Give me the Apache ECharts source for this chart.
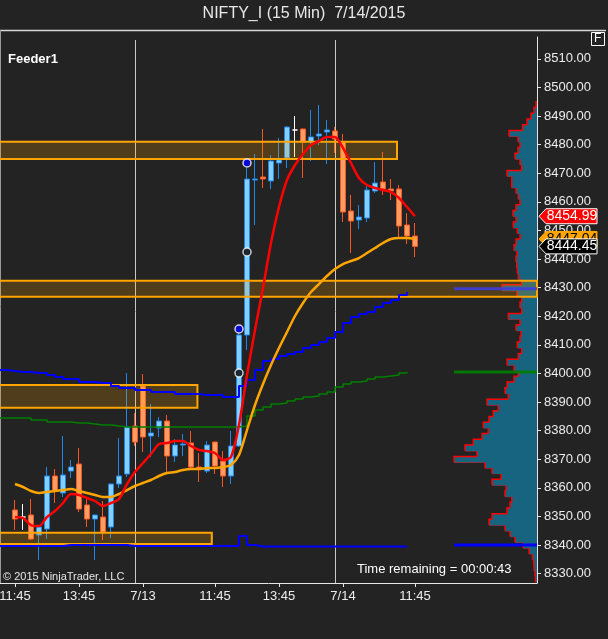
<!DOCTYPE html>
<html>
<head>
<meta charset="utf-8">
<title>NIFTY_I (15 Min) 7/14/2015</title>
<script src="https://cdn.jsdelivr.net/npm/echarts@6/dist/echarts.min.js"></script>
<style>
html,body{margin:0;padding:0;background:#232323;}
#chart{width:608px;height:639px;}
</style>
</head>
<body>
<div id="chart"></div>
<script>
/* 15 min bars, index 0 = 7/10 11:45 */
var tickIdx  = [0, 8, 16, 25, 33, 41, 50];
var tickText = ['11:45', '13:45', '7/13', '11:45', '13:45', '7/14', '11:45'];
var sessionBreaks = [15, 40];
var priceTicks = [8330, 8340, 8350, 8360, 8370, 8380, 8390, 8400, 8410, 8420,
                  8430, 8440, 8450, 8460, 8470, 8480, 8490, 8500, 8510];

// [open, close, low, high]
var ohlc = [
  [8352.27, 8349.12, 8345.28, 8355.77], [8349.82, 8349.82, 8345.28, 8354.37],
  [8350.52, 8342.13, 8341.78, 8356.12], [8343.53, 8346.32, 8334.79, 8346.50],
  [8345.63, 8364.16, 8342.13, 8367.30], [8364.16, 8358.91, 8354.72, 8366.60],
  [8358.22, 8364.51, 8356.82, 8378.14], [8365.90, 8367.30, 8363.46, 8369.75],
  [8368.35, 8352.62, 8351.57, 8373.95], [8354.02, 8349.12, 8346.32, 8356.47],
  [8349.12, 8350.52, 8334.79, 8350.70], [8349.82, 8344.58, 8341.78, 8355.42],
  [8346.32, 8361.36, 8342.48, 8361.50], [8361.36, 8364.16, 8359.96, 8377.44],
  [8364.86, 8381.29, 8363.81, 8400.17], [8381.64, 8376.04, 8374.65, 8386.19],
  [8395.63, 8377.79, 8372.55, 8399.82], [8378.14, 8379.19, 8370.80, 8389.33],
  [8380.94, 8383.39, 8377.79, 8384.79], [8383.39, 8371.15, 8365.21, 8385.49],
  [8371.15, 8375.00, 8369.05, 8377.09], [8375.00, 8375.35, 8371.15, 8378.84],
  [8375.70, 8367.30, 8366.25, 8379.89], [8367.30, 8366.60, 8362.06, 8372.20],
  [8365.90, 8375.00, 8365.21, 8376.39], [8376.04, 8367.65, 8364.86, 8376.20],
  [8369.40, 8364.16, 8360.31, 8372.90], [8364.16, 8374.65, 8361.36, 8379.89],
  [8374.65, 8413.46, 8374.30, 8414.16], [8413.46, 8468.00, 8408.21, 8471.85],
  [8467.65, 8468.00, 8451.92, 8476.74], [8468.70, 8468.00, 8464.86, 8485.49],
  [8467.30, 8474.30, 8464.51, 8476.39], [8473.60, 8474.65, 8468.00, 8482.34],
  [8475.35, 8486.18, 8471.85, 8486.53], [8485.14, 8485.14, 8475.69, 8490.03],
  [8485.49, 8480.94, 8468.35, 8485.60], [8480.94, 8482.69, 8474.30, 8492.13],
  [8483.04, 8483.74, 8479.89, 8493.88], [8484.44, 8485.14, 8473.25, 8488.63],
  [8484.79, 8481.99, 8477.09, 8486.18], [8480.94, 8456.46, 8452.97, 8483.74],
  [8456.81, 8453.32, 8442.13, 8462.41], [8453.67, 8454.72, 8450.52, 8458.91],
  [8454.37, 8464.16, 8452.97, 8465.55], [8463.81, 8466.60, 8463.11, 8473.95],
  [8466.95, 8464.51, 8462.41, 8477.44], [8464.51, 8463.81, 8460.66, 8468.00],
  [8464.51, 8451.57, 8447.72, 8465.90], [8451.92, 8448.07, 8445.28, 8456.11],
  [8448.07, 8444.45, 8440.73, 8452.62]
];

var maFast = [8349.82, 8349.47, 8347.02, 8346.67, 8349.82, 8351.92, 8354.72, 8357.87, 8357.52, 8356.47,
              8355.42, 8353.67, 8354.72, 8356.12, 8361.36, 8365.56, 8368.70, 8371.85, 8375.35, 8375.70,
              8376.39, 8376.39, 8374.65, 8373.25, 8372.90, 8372.20, 8369.75, 8370.80, 8381.99, 8399.47,
              8415.21, 8429.89, 8445.63, 8458.21, 8467.65, 8472.90, 8476.74, 8479.89, 8481.29, 8482.69,
              8482.69, 8478.84, 8473.60, 8468.35, 8465.90, 8464.86, 8464.16, 8463.46, 8461.36, 8458.21,
              8454.99];
var maSlow = [8361.36, 8360.31, 8358.91, 8358.22, 8358.56, 8358.91, 8359.26, 8359.61, 8358.91, 8358.22,
              8357.52, 8356.82, 8356.82, 8357.87, 8359.26, 8360.66, 8361.71, 8362.76, 8364.16, 8365.21,
              8365.56, 8366.25, 8366.60, 8366.60, 8366.95, 8366.95, 8367.30, 8368.00, 8371.50, 8380.24,
              8388.98, 8396.32, 8402.97, 8408.91, 8414.51, 8420.10, 8424.65, 8428.49, 8431.29, 8434.09,
              8436.53, 8438.28, 8439.33, 8440.38, 8442.13, 8443.88, 8445.63, 8447.02, 8447.37, 8447.37,
              8447.04];

// developing value area, first value belongs to bar index -2
var devStart = -2;
var devVah = [8401.22, 8400.87, 8400.52, 8400.52, 8400.17, 8400.17, 8399.47, 8398.77, 8398.07, 8398.07,
              8397.02, 8397.02, 8396.67, 8396.67, 8395.63, 8394.93, 8394.93, 8394.23, 8394.23, 8393.53,
              8393.53, 8393.53, 8392.83, 8392.83, 8392.83, 8392.48, 8392.48, 8392.48, 8391.78, 8391.78,
              8395.63, 8397.72, 8401.22, 8404.37, 8405.07, 8406.11, 8406.81, 8407.51, 8408.91, 8409.96,
              8411.01, 8412.41, 8414.51, 8417.65, 8419.75, 8420.80, 8421.50, 8423.25, 8424.65, 8425.69,
              8427.44, 8428.49];
var devPoc = [8384.44, 8384.44, 8384.44, 8384.44, 8383.74, 8383.74, 8383.04, 8383.04, 8383.04, 8382.69,
              8382.69, 8382.34, 8381.99, 8381.99, 8381.64, 8381.29, 8381.29, 8381.29, 8381.29, 8381.29,
              8381.29, 8381.29, 8381.29, 8381.29, 8381.29, 8381.29, 8381.29, 8381.29, 8381.29, 8381.29,
              8381.64, 8385.14, 8387.23, 8388.28, 8389.33, 8389.68, 8390.38, 8391.08, 8391.78, 8392.13,
              8392.83, 8393.53, 8395.28, 8396.32, 8397.02, 8397.37, 8398.07, 8398.77, 8399.12, 8399.47,
              8400.17, 8400.52];
var devVal = [8339.68, 8339.68, 8339.68, 8339.68, 8339.68, 8339.68, 8339.68, 8339.68, 8340.03, 8340.03,
              8340.03, 8340.03, 8340.03, 8340.03, 8340.03, 8340.03, 8339.68, 8339.68, 8339.68, 8339.68,
              8339.68, 8339.68, 8339.68, 8339.68, 8339.68, 8339.68, 8339.68, 8339.68, 8339.68, 8339.68,
              8343.18, 8340.03, 8339.50, 8339.50, 8339.50, 8339.50, 8339.50, 8339.50, 8339.50, 8339.50,
              8339.50, 8339.50, 8339.50, 8339.50, 8339.50, 8339.50, 8339.50, 8339.50, 8339.50, 8339.50,
              8339.50, 8339.50];

// volume profile, 2 point bins
var profilePrice = [8328, 8330, 8332, 8334, 8336, 8338, 8340, 8342, 8344, 8346,
                    8348, 8350, 8352, 8354, 8356, 8358, 8360, 8362, 8364, 8366,
                    8368, 8370, 8372, 8374, 8376, 8378, 8380, 8382, 8384, 8386,
                    8388, 8390, 8392, 8394, 8396, 8398, 8400, 8402, 8404, 8406,
                    8408, 8410, 8412, 8414, 8416, 8418, 8420, 8422, 8424, 8426,
                    8428, 8430, 8432, 8434, 8436, 8438, 8440, 8442, 8444, 8446,
                    8448, 8450, 8452, 8454, 8456, 8458, 8460, 8462, 8464, 8466,
                    8468, 8470, 8472, 8474, 8476, 8478, 8480, 8482, 8484, 8486,
                    8488, 8490, 8492, 8494];
var profileVol = [15, 20, 30, 33, 45, 80, 140, 220, 270, 320,
                  480, 450, 300, 270, 253, 320, 310, 450, 360, 450,
                  520, 830, 600, 720, 637, 550, 487, 537, 480, 437,
                  387, 500, 287, 320, 300, 230, 187, 230, 300, 187,
                  153, 197, 170, 160, 210, 170, 287, 153, 170, 153,
                  200, 350, 153, 187, 197, 203, 210, 200, 230, 210,
                  170, 197, 237, 210, 240, 210, 170, 187, 210, 253,
                  253, 300, 153, 170, 220, 190, 170, 190, 280, 145,
                  100, 60, 30, 10];
var profileVah = 8429.6, profilePoc = 8400.5, profileVal = 8340.0;

// drawn zones: [from bar, to bar, top price, bottom price]
var zones = [
  [-6, 47.75, 8481.0, 8475.0],
  [-6, 80, 8432.44, 8426.85],
  [-6, 22.8, 8395.97, 8388.03],
  [-6, 24.6, 8344.33, 8340.38]
];
var blueDots  = [[28, 8415.56], [29, 8473.60]];
var blackDots = [[28, 8400.17], [29, 8442.48]];

var FONT = '"Liberation Sans", Arial, sans-serif';
var yMin = 8326.75, yMax = 8517.66;
var xMin = -1.875, xMax = 65.25;
var binSize = 2;

function devSeries(arr) {
  return arr.map(function (v, k) { return [devStart + k, v]; });
}
function idxSeries(arr) {
  return arr.map(function (v, k) { return [k, v]; });
}

var candleData = ohlc.map(function (d, k) { return [k, d[0], d[1], d[2], d[3]]; });
var maxVol = Math.max.apply(null, profileVol);
var last = ohlc.length - 1;
var flags = [
  [maFast[last], '#ff0000', '#ffffff', '#ffffff'],
  [maSlow[last], '#ffa500', '#000000', '#ffa500'],
  [ohlc[last][1], '#000000', '#ffffff', '#ffffff']
];

var chart = echarts.init(document.getElementById('chart'));
var gridRect = { left: 0, top: 37, width: 537, height: 546, outerBoundsMode: 'none' };

var option = {
  backgroundColor: '#232323',
  animation: false,
  grid: [gridRect, gridRect],
  xAxis: [
    {
      type: 'value', gridIndex: 0, min: xMin, max: xMax,
      axisLine: { show: true, onZero: false, lineStyle: { color: '#e6e6e6', width: 1 } },
      axisTick: { show: true, length: 4, customValues: tickIdx, lineStyle: { color: '#e6e6e6' } },
      axisLabel: {
        customValues: tickIdx, color: '#ececec', fontSize: 13, fontFamily: FONT, margin: 7,
        formatter: function (v) { return tickText[tickIdx.indexOf(v)]; }
      },
      splitLine: { show: false }
    },
    { type: 'value', gridIndex: 1, min: 0, max: 5370, inverse: true, show: false }
  ],
  yAxis: [
    {
      type: 'value', gridIndex: 0, position: 'right', min: yMin, max: yMax,
      axisLine: { show: true, onZero: false, lineStyle: { color: '#e6e6e6', width: 1 } },
      axisTick: { show: true, length: 4, customValues: priceTicks, lineStyle: { color: '#e6e6e6' } },
      axisLabel: {
        customValues: priceTicks, color: '#ececec', fontSize: 13, fontFamily: FONT, margin: 7,
        formatter: function (v) { return v.toFixed(2); }
      },
      splitLine: { show: false }
    },
    { type: 'value', gridIndex: 1, min: yMin, max: yMax, show: false }
  ],
  series: [
    // session separators
    {
      type: 'custom', xAxisIndex: 0, yAxisIndex: 0, z: 1, silent: true,
      data: sessionBreaks,
      renderItem: function (params, api) {
        var x = Math.round(api.coord([api.value(0), yMin])[0]) + 0.5;
        var cs = params.coordSys;
        return { type: 'line', shape: { x1: x, y1: cs.y + 3, x2: x, y2: cs.y + cs.height },
                 style: { stroke: '#c8c8c8', lineWidth: 1 } };
      }
    },
    // volume profile
    {
      type: 'custom', xAxisIndex: 1, yAxisIndex: 1, z: 1, silent: true,
      data: profileVol,
      renderItem: function (params, api) {
        var k = params.dataIndex;
        var p = profilePrice[k], v = profileVol[k];
        var tl = api.coord([v, p + binSize / 2]);
        var br = api.coord([0, p - binSize / 2]);
        var above = k + 1 < profileVol.length ? profileVol[k + 1] : 0;
        var xa = api.coord([above, p + binSize / 2])[0];
        return {
          type: 'group',
          children: [
            { type: 'rect', shape: { x: tl[0], y: tl[1] - 0.4, width: br[0] - tl[0], height: br[1] - tl[1] + 0.8 },
              style: { fill: '#166480' } },
            { type: 'polyline', shape: { points: [[tl[0], br[1]], [tl[0], tl[1]], [xa, tl[1]]] },
              style: { stroke: '#ff0000', lineWidth: 1.5, fill: null } }
          ]
        };
      }
    },
    // profile value area lines
    {
      type: 'line', xAxisIndex: 1, yAxisIndex: 1, z: 4, silent: true, symbol: 'none',
      data: [[maxVol, profileVah], [0, profileVah]],
      lineStyle: { color: 'rgba(60,60,230,0.85)', width: 3 }
    },
    {
      type: 'line', xAxisIndex: 1, yAxisIndex: 1, z: 4, silent: true, symbol: 'none',
      data: [[maxVol, profilePoc], [0, profilePoc]],
      lineStyle: { color: 'rgba(0,128,0,0.9)', width: 3 }
    },
    {
      type: 'line', xAxisIndex: 1, yAxisIndex: 1, z: 4, silent: true, symbol: 'none',
      data: [[maxVol, profileVal], [0, profileVal]],
      lineStyle: { color: '#0000ff', width: 3 }
    },
    // candles
    {
      type: 'candlestick', xAxisIndex: 0, yAxisIndex: 0, z: 2,
      data: candleData,
      encode: { x: 0, y: [1, 2, 3, 4] },
      barWidth: 5,
      itemStyle: {
        color: '#87cefa', color0: '#f6a068',
        borderColor: '#2088e8', borderColor0: '#ff5520',
        borderColorDoji: '#ffffff', borderWidth: 1
      }
    },
    // zones
    {
      type: 'custom', xAxisIndex: 0, yAxisIndex: 0, z: 3, silent: true,
      data: zones,
      renderItem: function (params, api) {
        var p0 = api.coord([api.value(0), api.value(2)]);
        var p1 = api.coord([api.value(1), api.value(3)]);
        var cs = params.coordSys;
        var rect = echarts.graphic.clipRectByRect(
          { x: p0[0], y: p0[1], width: p1[0] - p0[0], height: p1[1] - p0[1] },
          { x: cs.x - 3, y: cs.y, width: cs.width + 3, height: cs.height });
        if (!rect) return null;
        return { type: 'rect', shape: rect,
                 style: { fill: 'rgba(255,165,0,0.2)', stroke: '#ffa500', lineWidth: 2 } };
      }
    },
    // developing value area
    {
      type: 'line', xAxisIndex: 0, yAxisIndex: 0, z: 4, silent: true, symbol: 'none', step: 'end',
      data: devSeries(devVah), lineStyle: { color: '#0000ff', width: 2 }
    },
    {
      type: 'line', xAxisIndex: 0, yAxisIndex: 0, z: 4, silent: true, symbol: 'none', step: 'end',
      data: devSeries(devPoc), lineStyle: { color: '#008000', width: 1.5 }
    },
    {
      type: 'line', xAxisIndex: 0, yAxisIndex: 0, z: 4, silent: true, symbol: 'none', step: 'end',
      data: devSeries(devVal), lineStyle: { color: '#0000ff', width: 2 }
    },
    // moving averages
    {
      type: 'line', xAxisIndex: 0, yAxisIndex: 0, z: 5, silent: true, symbol: 'none', smooth: 0.25,
      data: idxSeries(maSlow), lineStyle: { color: '#ffa500', width: 2.5 }
    },
    {
      type: 'line', xAxisIndex: 0, yAxisIndex: 0, z: 5, silent: true, symbol: 'none', smooth: 0.25,
      data: idxSeries(maFast), lineStyle: { color: '#ff0000', width: 2.5 }
    },
    // signal dots
    {
      type: 'scatter', xAxisIndex: 0, yAxisIndex: 0, z: 6, silent: true,
      data: blueDots, symbolSize: 8,
      itemStyle: { color: '#0000ff', borderColor: '#ffffff', borderWidth: 1.5 }
    },
    {
      type: 'scatter', xAxisIndex: 0, yAxisIndex: 0, z: 6, silent: true,
      data: blackDots, symbolSize: 8,
      itemStyle: { color: '#000000', borderColor: '#ffffff', borderWidth: 1.5 }
    },
    // price flags on the axis
    {
      type: 'custom', xAxisIndex: 0, yAxisIndex: 0, z: 10, silent: true,
      data: flags.map(function (f) { return [0, f[0]]; }),
      renderItem: function (params, api) {
        var f = flags[params.dataIndex];
        var y = api.coord([0, api.value(1)])[1];
        var x0 = params.coordSys.x + params.coordSys.width;
        return {
          type: 'group',
          children: [
            { type: 'polygon',
              shape: { points: [[x0 + 2, y], [x0 + 9, y - 7.5], [x0 + 60, y - 7.5], [x0 + 60, y + 7.5], [x0 + 9, y + 7.5]] },
              style: { fill: f[1], stroke: f[3], lineWidth: 1 } },
            { type: 'text', x: x0 + 35, y: y,
              style: { text: f[0].toFixed(2), fill: f[2], font: '14px ' + FONT, align: 'center', verticalAlign: 'middle' } }
          ]
        };
      }
    }
  ],
  graphic: [
    { type: 'text', left: 'center', top: 6,
      style: { text: 'NIFTY_I (15 Min)  7/14/2015', fill: '#e8e8e8', font: '16px ' + FONT } },
    { type: 'line', shape: { x1: 0, y1: 30.5, x2: 606, y2: 30.5 }, style: { stroke: '#d8d8d8', lineWidth: 1.5 } },
    { type: 'line', shape: { x1: 0.5, y1: 30, x2: 0.5, y2: 583 }, style: { stroke: '#9a9a9a', lineWidth: 1 } },
    { type: 'text', left: 8, top: 53,
      style: { text: 'Feeder1', fill: '#ffffff', font: 'bold 13px ' + FONT } },
    { type: 'rect', shape: { x: 591.5, y: 32.5, width: 13, height: 13 },
      style: { fill: '#232323', stroke: '#ffffff', lineWidth: 1 } },
    { type: 'text', left: 594, top: 33,
      style: { text: 'F', fill: '#ffffff', font: '12px ' + FONT } },
    { type: 'text', left: 3, top: 571,
      style: { text: '\u00a9 2015 NinjaTrader, LLC', fill: '#e6e6e6', font: '11px ' + FONT } },
    { type: 'text', left: 357, top: 563,
      style: { text: 'Time remaining = 00:00:43', fill: '#ffffff', font: '13px ' + FONT } }
  ]
};

chart.setOption(option);
</script>
</body>
</html>
